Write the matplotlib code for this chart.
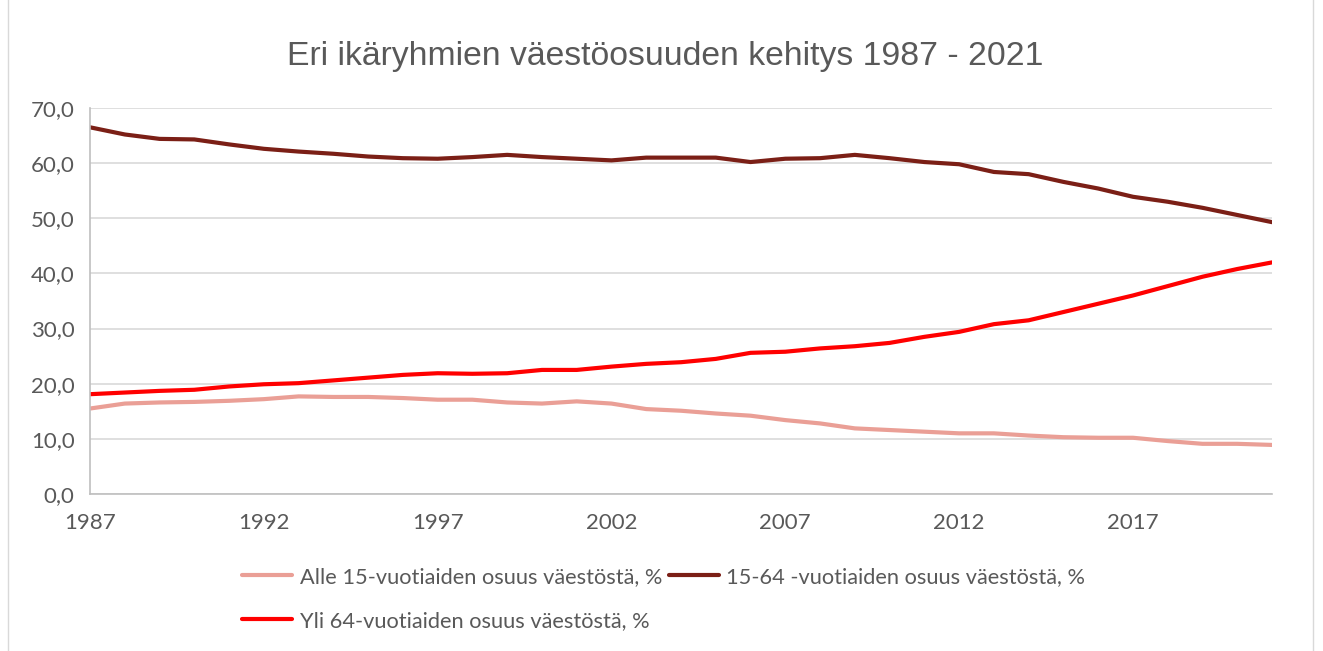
import matplotlib.pyplot as plt
import matplotlib.patches as patches
import numpy as np

years = list(range(1987, 2022))

alle15 = [15.5, 16.4, 16.6, 16.7, 16.9, 17.2, 17.7, 17.6, 17.6, 17.4,
          17.1, 17.1, 16.6, 16.4, 16.8, 16.4, 15.4, 15.1, 14.6, 14.2,
          13.4, 12.8, 11.9, 11.6, 11.3, 11.0, 11.0, 10.6, 10.3, 10.2,
          10.2, 9.6, 9.1, 9.1, 8.9]
tyoika = [66.5, 65.2, 64.4, 64.3, 63.4, 62.6, 62.1, 61.7, 61.2, 60.9,
          60.8, 61.1, 61.5, 61.1, 60.8, 60.5, 61.0, 61.0, 61.0, 60.2,
          60.8, 60.9, 61.5, 60.9, 60.2, 59.8, 58.4, 58.0, 56.6, 55.4,
          53.9, 53.0, 51.9, 50.6, 49.3]
yli64 = [18.1, 18.4, 18.7, 18.9, 19.5, 19.9, 20.1, 20.6, 21.1, 21.6,
         21.9, 21.8, 21.9, 22.5, 22.5, 23.1, 23.6, 23.9, 24.5, 25.6,
         25.8, 26.4, 26.8, 27.4, 28.5, 29.4, 30.8, 31.5, 33.0, 34.5,
         36.0, 37.7, 39.4, 40.8, 42.0]

labels = ["Alle 15-vuotiaiden osuus väestöstä, %",
          "15-64 -vuotiaiden osuus väestöstä, %",
          "Yli 64-vuotiaiden osuus väestöstä, %"]
colors = ["#EA9F96", "#7B1F16", "#FF0000"]
title = "Eri ikäryhmien väestöosuuden kehitys 1987 - 2021"

txt = "#595959"
plt.rcParams['font.family'] = ['Lato', 'DejaVu Sans']

fig = plt.figure(figsize=(13.23, 6.51), dpi=100)
fig.patches.append(patches.Rectangle((8 / 1323, -0.01), 1305 / 1323, 1.02,
                                     transform=fig.transFigure, fill=False,
                                     edgecolor="#d9d9d9", linewidth=1))
ax = fig.add_axes([90 / 1323, 1 - 494 / 651, 1182 / 1323, 386 / 651])

lines = []
for vals, c, lab in zip([alle15, tyoika, yli64], colors, labels):
    ln, = ax.plot(years, vals, color=c, linewidth=3, label=lab,
                  solid_capstyle="round", solid_joinstyle="round")
    lines.append(ln)

ax.set_xlim(1987, 2021)
ax.set_ylim(0, 70)
ax.set_yticks(np.arange(0, 71, 10))
ax.set_yticklabels([f"{v:.1f}".replace(".", ",") for v in np.arange(0, 71, 10)])
ax.set_xticks(range(1987, 2021, 5))
ax.grid(axis="y", color="#d9d9d9", linewidth=1.2)
ax.set_axisbelow(True)
for s in ["top", "right"]:
    ax.spines[s].set_visible(False)
ax.spines["left"].set_color("#bfbfbf")
ax.spines["bottom"].set_color("#bfbfbf")
ax.spines["left"].set_linewidth(1.2)
ax.spines["bottom"].set_linewidth(1.2)
ax.tick_params(axis="both", length=0, labelsize=16, labelcolor=txt)
ax.tick_params(axis="y", pad=11)
ax.tick_params(axis="x", pad=14)

fig.text(0.503, 1 - 56 / 651, title, ha="center", va="center",
         fontsize=24.3, color=txt, family=["Liberation Sans"])

leg = fig.legend([lines[0], lines[2], lines[1]],
                 [labels[0], labels[2], labels[1]],
                 ncol=2, loc="upper left", bbox_to_anchor=(242 / 1323, 1 - 567 / 651),
                 frameon=False, fontsize=15.7, labelcolor=txt, handlelength=2.3,
                 handletextpad=0.35, columnspacing=0.3, labelspacing=1.1,
                 borderaxespad=0, borderpad=0)

fig.savefig("out.png", dpi=100)
